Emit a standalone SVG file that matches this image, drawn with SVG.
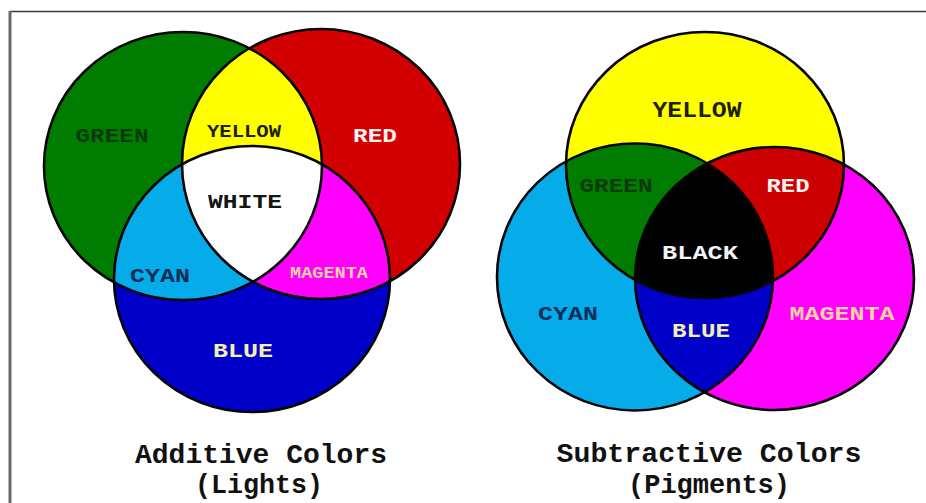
<svg xmlns="http://www.w3.org/2000/svg" width="926" height="503" viewBox="0 0 926 503">
  <style>
    .ol { fill: none; stroke: #050505; stroke-width: 2.6; }
    .lbl { font-family: "Liberation Mono", "DejaVu Sans Mono", monospace; font-weight: bold; text-anchor: middle; }
    .ttl { font-family: "Liberation Mono", "DejaVu Sans Mono", monospace; font-weight: bold; text-anchor: middle; fill: #111; font-size: 27px; }
  </style>
  <defs>
    <ellipse id="lg" cx="183" cy="166" rx="139" ry="134"/>
    <ellipse id="lr" cx="321" cy="164" rx="139" ry="135"/>
    <ellipse id="lb" cx="252" cy="279" rx="138" ry="133"/>
    <ellipse id="ry" cx="705" cy="165" rx="139" ry="133"/>
    <ellipse id="rc" cx="635" cy="277" rx="138" ry="133.5"/>
    <ellipse id="rm" cx="774.5" cy="278.5" rx="139.5" ry="131.5"/>
    <clipPath id="cLG"><use href="#lg"/></clipPath>
    <clipPath id="cLR"><use href="#lr"/></clipPath>
    <clipPath id="cRY"><use href="#ry"/></clipPath>
    <clipPath id="cRC"><use href="#rc"/></clipPath>
    <clipPath id="cRM"><use href="#rm"/></clipPath>
  </defs>
  <rect x="0" y="0" width="926" height="503" fill="#ffffff"/>
  <g id="frame">
    <line x1="10" y1="11.5" x2="926" y2="11.5" stroke="#3a3a3a" stroke-width="1.6"/>
    <line x1="10" y1="11" x2="10" y2="503" stroke="#6a6a6a" stroke-width="3"/>
  </g>

  <g id="additive">
    <g id="add-fills">
      <use href="#lg" fill="#007d00"/>
      <use href="#lr" fill="#d20000"/>
      <use href="#lb" fill="#0000c8"/>
      <use href="#lr" fill="#ffff00" clip-path="url(#cLG)"/>
      <use href="#lb" fill="#06acea" clip-path="url(#cLG)"/>
      <use href="#lb" fill="#ff00ff" clip-path="url(#cLR)"/>
      <g clip-path="url(#cLR)"><use href="#lb" fill="#ffffff" clip-path="url(#cLG)"/></g>
    </g>
    <g id="add-outlines">
      <use href="#lg" class="ol"/>
      <use href="#lr" class="ol"/>
      <use href="#lb" class="ol"/>
    </g>
    <g id="add-labels">
      <text class="lbl" x="112" y="142" font-size="21" textLength="73" lengthAdjust="spacingAndGlyphs" fill="#0b3a0b">GREEN</text>
      <text class="lbl" x="244" y="137" font-size="18" textLength="74" lengthAdjust="spacingAndGlyphs" fill="#1e1e00">YELLOW</text>
      <text class="lbl" x="375" y="142" font-size="21" textLength="44" lengthAdjust="spacingAndGlyphs" fill="#fff2f0">RED</text>
      <text class="lbl" x="245" y="208" font-size="21" textLength="74" lengthAdjust="spacingAndGlyphs" fill="#151515">WHITE</text>
      <text class="lbl" x="160" y="282" font-size="20" textLength="60" lengthAdjust="spacingAndGlyphs" fill="#0a2e5a">CYAN</text>
      <text class="lbl" x="329" y="278" font-size="16" textLength="78" lengthAdjust="spacingAndGlyphs" fill="#ffd0a0">MAGENTA</text>
      <text class="lbl" x="243" y="357" font-size="20" textLength="60" lengthAdjust="spacingAndGlyphs" fill="#f2f0b0">BLUE</text>
    </g>
    <g id="add-title">
      <text class="ttl" x="261" y="463" textLength="252" lengthAdjust="spacingAndGlyphs">Additive Colors</text>
      <text class="ttl" x="259" y="493" textLength="128" lengthAdjust="spacingAndGlyphs">(Lights)</text>
    </g>
  </g>

  <g id="subtractive">
    <g id="sub-fills">
      <use href="#ry" fill="#ffff00"/>
      <use href="#rc" fill="#06acea"/>
      <use href="#rm" fill="#ff00ff"/>
      <use href="#rc" fill="#007d00" clip-path="url(#cRY)"/>
      <use href="#rm" fill="#cc0000" clip-path="url(#cRY)"/>
      <use href="#rm" fill="#0000c8" clip-path="url(#cRC)"/>
      <g clip-path="url(#cRY)"><use href="#rm" fill="#000000" clip-path="url(#cRC)"/></g>
    </g>
    <g id="sub-outlines">
      <use href="#ry" class="ol"/>
      <use href="#rc" class="ol"/>
      <use href="#rm" class="ol"/>
    </g>
    <g id="sub-labels">
      <text class="lbl" x="697" y="117" font-size="22" textLength="89" lengthAdjust="spacingAndGlyphs" fill="#1e1e00">YELLOW</text>
      <text class="lbl" x="616" y="192" font-size="21" textLength="73" lengthAdjust="spacingAndGlyphs" fill="#0b3a0b">GREEN</text>
      <text class="lbl" x="788" y="192" font-size="21" textLength="43" lengthAdjust="spacingAndGlyphs" fill="#fff2f0">RED</text>
      <text class="lbl" x="700" y="259" font-size="21" textLength="76" lengthAdjust="spacingAndGlyphs" fill="#f4f4f4">BLACK</text>
      <text class="lbl" x="568" y="320" font-size="20" textLength="60" lengthAdjust="spacingAndGlyphs" fill="#0a2e5a">CYAN</text>
      <text class="lbl" x="842" y="320" font-size="20" textLength="105" lengthAdjust="spacingAndGlyphs" fill="#ffd0a0">MAGENTA</text>
      <text class="lbl" x="701" y="337" font-size="20" textLength="58" lengthAdjust="spacingAndGlyphs" fill="#f2f0b0">BLUE</text>
    </g>
    <g id="sub-title">
      <text class="ttl" x="709" y="462" textLength="305" lengthAdjust="spacingAndGlyphs">Subtractive Colors</text>
      <text class="ttl" x="709" y="493" textLength="162" lengthAdjust="spacingAndGlyphs">(Pigments)</text>
    </g>
  </g>
</svg>
